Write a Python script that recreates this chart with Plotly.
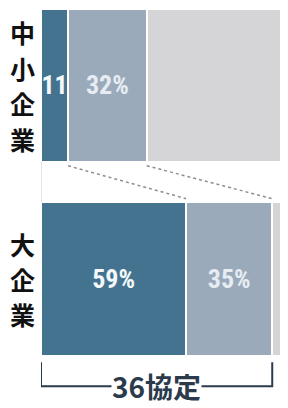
import plotly.graph_objects as go

categories = ["中小企業", "大企業"]
agreed = [11, 59]          # dark segment
partial = [32, 35]         # mid segment
rest = [57, 6]             # grey remainder
agreed_labels = ["11", "59%"]
partial_labels = ["32%", "35%"]
bracket_label = "36協定"

ypos = [0, 1]
bw = 0.79
DARK = "#44738f"
MID = "#9aaabb"
GREY = "#d5d5d7"
NARROW = "Liberation Sans Narrow, Roboto Condensed, Arial Narrow, sans-serif"

fig = go.Figure()
fig.add_trace(go.Bar(
    y=ypos, x=agreed, orientation="h", width=bw,
    marker=dict(color=DARK, line=dict(color="white", width=1.5)),
    text=agreed_labels, textposition="inside", insidetextanchor="middle",
    constraintext="none",
    textfont=dict(family=NARROW, size=26, color="#f4f8fb", weight="bold"),
    hoverinfo="skip"))
fig.add_trace(go.Bar(
    y=ypos, x=partial, orientation="h", width=bw,
    marker=dict(color=MID, line=dict(color="white", width=1.5)),
    text=partial_labels, textposition="inside", insidetextanchor="middle",
    constraintext="none",
    textfont=dict(family=NARROW, size=26, color="#e6ecf2", weight="bold"),
    hoverinfo="skip"))
fig.add_trace(go.Bar(
    y=ypos, x=rest, orientation="h", width=bw,
    marker=dict(color=GREY, line=dict(color="white", width=1.5)),
    hoverinfo="skip"))

# dotted connector lines between segment boundaries
top_bottom = ypos[0] + bw / 2
low_top = ypos[1] - bw / 2
b1 = [agreed[0], agreed[1]]
b2 = [agreed[0] + partial[0], agreed[1] + partial[1]]
for b in (b1, b2):
    fig.add_trace(go.Scatter(
        x=b, y=[top_bottom + 0.02, low_top - 0.02], mode="lines",
        line=dict(color="#8a8f96", width=1.5, dash="dot"),
        hoverinfo="skip", showlegend=False))
# faint vertical guide at the left edge
fig.add_trace(go.Scatter(
    x=[0, 0], y=[top_bottom, low_top], mode="lines",
    line=dict(color="#c9ccd0", width=1), hoverinfo="skip", showlegend=False))

# bracket under the large-company bar
total36 = agreed[1] + partial[1]
yb0 = ypos[1] + bw / 2 + 0.035
yb1 = yb0 + 0.125
fig.add_trace(go.Scatter(
    x=[0, 0, total36, total36], y=[yb0, yb1, yb1, yb0], mode="lines",
    line=dict(color="#2b3b4c", width=2), hoverinfo="skip", showlegend=False))
fig.add_annotation(x=total36 / 2, y=yb1, text=bracket_label, showarrow=False,
                   bgcolor="white", borderpad=0,
                   font=dict(family="Noto Sans CJK JP", size=28, color="#2b3b4c",
                             weight="bold"))

# vertical category labels, one character per annotation
pitch = 0.183
for cat, y in zip(categories, ypos):
    n = len(cat)
    for i, ch in enumerate(cat):
        fig.add_annotation(x=0, xref="x", xanchor="center", xshift=-19,
                           y=y + (i - (n - 1) / 2) * pitch, yanchor="middle",
                           text=ch, showarrow=False,
                           font=dict(family="Noto Sans CJK JP", size=25, color="#111111",
                                     weight="bold"))

fig.update_layout(
    width=280, height=400, barmode="stack", showlegend=False,
    margin=dict(l=33, r=1, t=0, b=0),
    paper_bgcolor="white", plot_bgcolor="white",
    xaxis=dict(range=[0, 100], visible=False, fixedrange=True),
    yaxis=dict(range=[1.667, -0.4005], visible=False, fixedrange=True),
)
fig.write_html("out.html")
